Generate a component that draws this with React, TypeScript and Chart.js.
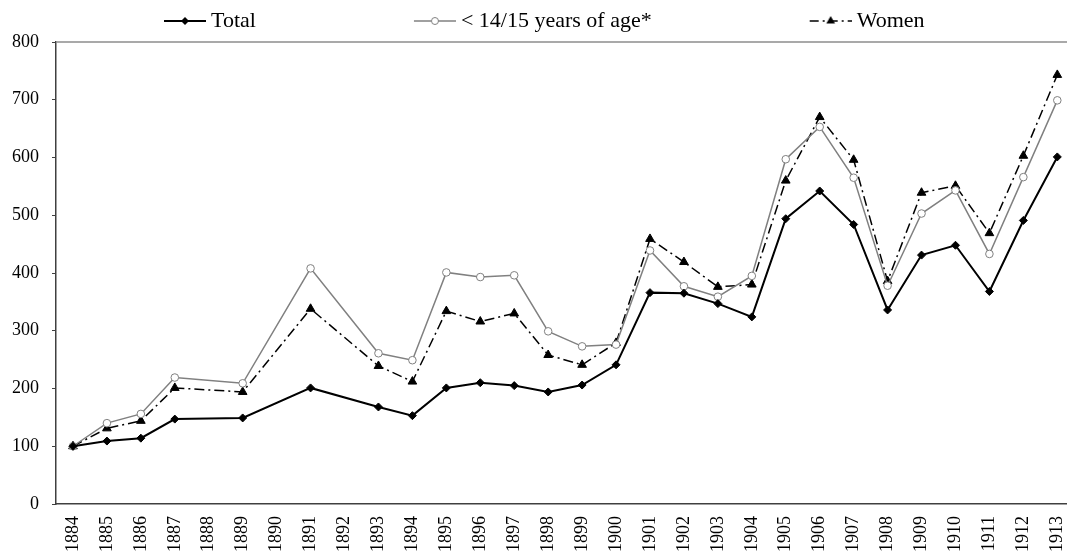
import React, { useEffect, useRef } from 'react';
import { Chart, registerables } from 'chart.js';

Chart.register(...registerables);

// ---- data ----
const years = [
  '1884', '1885', '1886', '1887', '1888', '1889', '1890', '1891', '1892', '1893',
  '1894', '1895', '1896', '1897', '1898', '1899', '1900', '1901', '1902', '1903',
  '1904', '1905', '1906', '1907', '1908', '1909', '1910', '1911', '1912', '1913',
];

const totalValues = [
  100, 109, 114, 147, null, 149, null, 201, null, 168,
  153, 201, 210, 205, 194, 206, 241, 366, 365, 347,
  324, 494, 542, 484, 336, 431, 448, 368, 491, 601,
];

const under15Values = [
  100, 140, 156, 219, null, 209, null, 408, null, 261,
  249, 401, 393, 396, 299, 273, 276, 439, 377, 359,
  395, 597, 653, 565, 378, 503, 543, 433, 566, 699,
];

const womenValues = [
  100, 131, 144, 201, null, 194, null, 338, null, 239,
  212, 334, 316, 330, 258, 241, 279, 459, 419, 376,
  380, 560, 670, 596, 386, 539, 551, 469, 603, 743,
];

const seriesNames = ['Total', '< 14/15 years of age*', 'Women'];
const yMin = 0;
const yMax = 800;
const yStep = 100;

const FONT = "'Liberation Serif', 'Times New Roman', serif";
const WOMEN_DASH = [10, 4, 2, 4];

function drawMarker(ctx: CanvasRenderingContext2D, kind: number, x: number, y: number) {
  ctx.setLineDash([]);
  if (kind === 0) {
    const r = 4;
    ctx.beginPath();
    ctx.moveTo(x - r, y);
    ctx.lineTo(x, y - r);
    ctx.lineTo(x + r, y);
    ctx.lineTo(x, y + r);
    ctx.closePath();
    ctx.fillStyle = '#000';
    ctx.fill();
  } else if (kind === 1) {
    ctx.beginPath();
    ctx.arc(x, y, 3.5, 0, Math.PI * 2);
    ctx.fillStyle = '#fff';
    ctx.fill();
    ctx.strokeStyle = '#808080';
    ctx.lineWidth = 1;
    ctx.stroke();
  } else {
    const r = 5;
    ctx.beginPath();
    ctx.moveTo(x, y - r);
    ctx.lineTo(x + r * 0.866, y + r * 0.5);
    ctx.lineTo(x - r * 0.866, y + r * 0.5);
    ctx.closePath();
    ctx.fillStyle = '#000';
    ctx.fill();
  }
}

const GAP = 148;
function makeLegendSymbol(kind: number): HTMLCanvasElement {
  const c = document.createElement('canvas');
  c.width = GAP + 48;
  c.height = 22;
  const ctx = c.getContext('2d')!;
  const x0 = c.width - 42;
  const x1 = c.width;
  const y = 11;
  ctx.beginPath();
  ctx.moveTo(x0, y);
  ctx.lineTo(x1, y);
  if (kind === 0) {
    ctx.strokeStyle = '#000';
    ctx.lineWidth = 2;
  } else if (kind === 1) {
    ctx.strokeStyle = '#808080';
    ctx.lineWidth = 1.5;
  } else {
    ctx.strokeStyle = '#000';
    ctx.lineWidth = 1.5;
    ctx.setLineDash([9, 4, 2, 4]);
  }
  ctx.stroke();
  drawMarker(ctx, kind, (x0 + x1) / 2, y);
  return c;
}

const topBorder = {
  id: 'topBorder',
  beforeDatasetsDraw(chart: any) {
    const { ctx, chartArea } = chart;
    ctx.save();
    ctx.strokeStyle = '#8c8c8c';
    ctx.lineWidth = 1.5;
    ctx.beginPath();
    ctx.moveTo(chartArea.left, chartArea.top);
    ctx.lineTo(chartArea.right, chartArea.top);
    ctx.stroke();
    ctx.restore();
  },
};

export default function App() {
  const ref = useRef<HTMLCanvasElement>(null);

  useEffect(() => {
    const canvas = ref.current!;
    const symbols = [makeLegendSymbol(0), makeLegendSymbol(1), makeLegendSymbol(2)];

    const chart = new Chart(canvas, {
      type: 'line',
      data: {
        labels: years,
        datasets: [
          {
            label: seriesNames[0],
            data: totalValues,
            borderColor: '#000',
            borderWidth: 2,
            pointStyle: 'rectRot',
            pointRadius: 4,
            pointBackgroundColor: '#000',
            pointBorderColor: '#000',
            pointBorderWidth: 1,
            spanGaps: true,
            tension: 0,
          },
          {
            label: seriesNames[1],
            data: under15Values,
            borderColor: '#808080',
            borderWidth: 1.5,
            pointStyle: 'circle',
            pointRadius: 3.8,
            pointBackgroundColor: '#fff',
            pointBorderColor: '#808080',
            pointBorderWidth: 1,
            spanGaps: true,
            tension: 0,
          },
          {
            label: seriesNames[2],
            data: womenValues,
            borderColor: '#000',
            borderWidth: 1.5,
            borderDash: WOMEN_DASH,
            pointStyle: 'triangle',
            pointRadius: 5,
            pointBackgroundColor: '#000',
            pointBorderColor: '#000',
            pointBorderWidth: 1,
            spanGaps: true,
            tension: 0,
          },
        ],
      },
      options: {
        responsive: false,
        animation: false,
        layout: { padding: { left: 6, right: 0, top: 0, bottom: 2 } },
        plugins: {
          tooltip: { enabled: false },
          legend: {
            position: 'top',
            align: 'start',
            labels: {
              usePointStyle: true,
              pointStyleWidth: GAP + 36,
              padding: 10,
              color: '#000',
              font: { family: FONT, size: 22 },
              generateLabels: () =>
                seriesNames.map((name, i) => ({
                  text: name,
                  pointStyle: symbols[i],
                  fillStyle: 'transparent',
                  strokeStyle: 'transparent',
                  lineWidth: 0,
                  hidden: false,
                  datasetIndex: i,
                  fontColor: '#000',
                })),
            },
          },
        },
        scales: {
          x: {
            type: 'category',
            offset: true,
            grid: { display: false, drawTicks: false },
            border: { display: true, color: '#404040', width: 1.5 },
            ticks: {
              autoSkip: false,
              maxRotation: 90,
              minRotation: 90,
              padding: 12,
              color: '#000',
              font: { family: FONT, size: 18 },
            },
          },
          y: {
            type: 'linear',
            min: yMin,
            max: yMax,
            afterFit: (scale: any) => {
              scale.width = 50;
            },
            grid: {
              display: true,
              drawOnChartArea: false,
              drawTicks: true,
              tickLength: 4,
              color: '#404040',
            },
            border: { display: true, color: '#404040', width: 1.5 },
            ticks: {
              stepSize: yStep,
              padding: 13,
              color: '#000',
              font: { family: FONT, size: 18 },
            },
          },
        },
      },
      plugins: [topBorder],
    } as any);

    return () => chart.destroy();
  }, []);

  return (
    <div
      style={{
        position: 'fixed',
        left: 0,
        top: 0,
        width: 1067,
        height: 553,
        overflow: 'hidden',
        background: '#fff',
      }}
    >
      <canvas ref={ref} width={1091} height={566} style={{ display: 'block', width: 1091, height: 566 }} />
    </div>
  );
}
